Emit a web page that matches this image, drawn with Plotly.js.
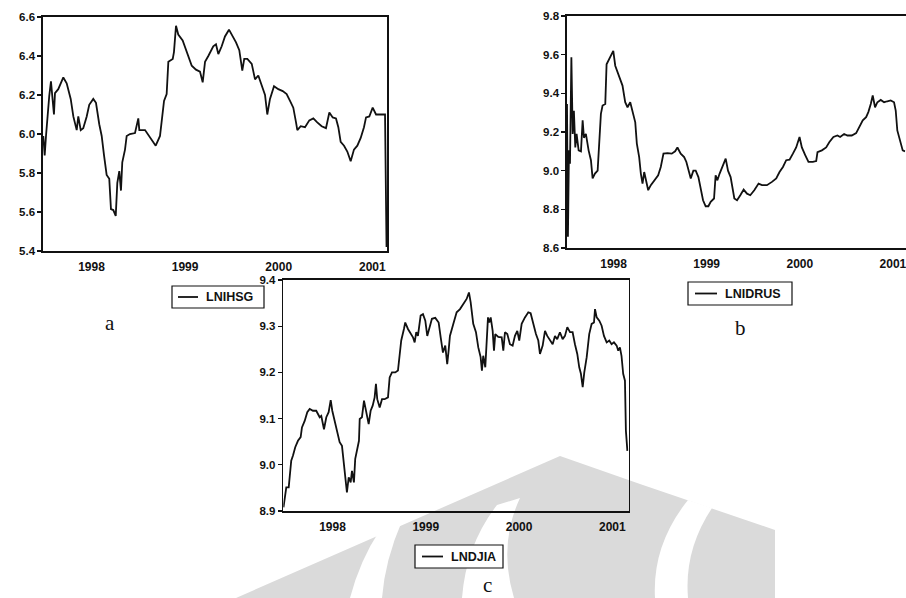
<!DOCTYPE html>
<html>
<head>
<meta charset="utf-8">
<script src="https://cdn.plot.ly/plotly-3.0.1.min.js"></script>
<style>
  html, body { margin: 0; padding: 0; background: #fff; }
  #chart { width: 906px; height: 598px; }
</style>
</head>
<body>
<div id="chart"></div>
<script>
// Weekly log index levels, mid-1997 to early 2001 (time in decimal years)

// a: LNIHSG
const yearsA = [1997.485,1997.50,1997.514,1997.528,1997.549,1997.567,1997.581,1997.599,1997.61,1997.645,
  1997.699,1997.735,1997.778,1997.806,1997.842,1997.859,1997.885,1997.912,1997.949,1997.976,
  1998.019,1998.048,1998.083,1998.109,1998.134,1998.162,1998.19,1998.208,1998.233,1998.259,
  1998.276,1998.297,1998.315,1998.329,1998.358,1998.376,1998.411,1998.465,1998.50,1998.511,
  1998.572,1998.625,1998.686,1998.732,1998.75,1998.775,1998.803,1998.821,1998.868,1998.881,
  1998.903,1998.927,1998.974,1999.017,1999.071,1999.116,1999.159,1999.188,1999.213,1999.248,
  1999.301,1999.330,1999.355,1999.391,1999.426,1999.469,1999.509,1999.544,1999.579,1999.611,
  1999.632,1999.665,1999.712,1999.747,1999.782,1999.818,1999.854,1999.878,1999.907,1999.95,
  1999.996,2000.043,2000.085,2000.121,2000.156,2000.185,2000.199,2000.235,2000.281,2000.327,
  2000.37,2000.412,2000.459,2000.505,2000.541,2000.577,2000.612,2000.637,2000.662,2000.698,
  2000.733,2000.769,2000.804,2000.84,2000.876,2000.911,2000.933,2000.968,2001.004,2001.04,
  2001.082,2001.136,2001.152];
const lnihsg = [5.99,5.89,5.99,6.09,6.196,6.27,6.20,6.10,6.21,6.23,
  6.29,6.26,6.18,6.09,6.02,6.09,6.02,6.03,6.09,6.15,
  6.18,6.16,6.05,5.99,5.89,5.79,5.77,5.615,5.61,5.58,
  5.75,5.81,5.71,5.855,5.92,5.99,6.00,6.005,6.08,6.02,
  6.02,5.98,5.94,5.99,6.06,6.17,6.205,6.37,6.385,6.42,
  6.555,6.51,6.48,6.42,6.35,6.33,6.32,6.265,6.37,6.40,
  6.45,6.46,6.41,6.45,6.50,6.535,6.50,6.47,6.43,6.325,
  6.385,6.385,6.36,6.28,6.30,6.25,6.20,6.10,6.18,6.245,
  6.23,6.22,6.205,6.17,6.135,6.06,6.02,6.04,6.035,6.07,
  6.08,6.06,6.04,6.03,6.11,6.085,6.08,6.035,5.96,5.94,
  5.91,5.86,5.92,5.94,5.98,6.035,6.085,6.09,6.135,6.10,
  6.10,6.10,5.42];

// b: LNIDRUS
const yearsB = [1997.50,1997.51,1997.521,1997.532,1997.547,1997.561,1997.574,1997.589,1997.603,1997.625,
  1997.65,1997.668,1997.682,1997.703,1997.732,1997.757,1997.775,1997.80,1997.829,1997.847,
  1997.864,1997.882,1997.911,1997.925,1997.946,1997.971,1997.997,1998.018,1998.043,1998.068,
  1998.096,1998.125,1998.15,1998.179,1998.204,1998.233,1998.25,1998.275,1998.293,1998.311,
  1998.329,1998.346,1998.372,1998.40,1998.436,1998.479,1998.507,1998.536,1998.579,1998.625,
  1998.661,1998.686,1998.721,1998.758,1998.782,1998.811,1998.829,1998.857,1998.882,1998.911,
  1998.936,1998.961,1998.989,1999.018,1999.043,1999.079,1999.096,1999.115,1999.139,1999.168,
  1999.204,1999.229,1999.257,1999.297,1999.326,1999.361,1999.397,1999.433,1999.468,1999.511,
  1999.557,1999.594,1999.647,1999.701,1999.747,1999.782,1999.819,1999.854,1999.89,1999.926,
  1999.961,1999.997,2000.022,2000.058,2000.093,2000.14,2000.176,2000.19,2000.237,2000.283,
  2000.318,2000.361,2000.404,2000.433,2000.476,2000.511,2000.558,2000.605,2000.64,2000.676,
  2000.712,2000.736,2000.762,2000.783,2000.808,2000.833,2000.869,2000.905,2000.94,2000.976,
  2001.012,2001.03,2001.047,2001.076,2001.105,2001.13];
const lnidrus = [9.345,8.658,9.105,9.036,9.586,9.19,9.31,9.12,9.19,9.105,
  9.10,9.26,9.17,9.19,9.105,9.054,8.96,8.985,9.0,9.157,
  9.294,9.337,9.345,9.55,9.57,9.595,9.62,9.543,9.51,9.474,
  9.44,9.354,9.328,9.354,9.31,9.25,9.14,9.07,8.985,8.933,
  8.993,8.95,8.899,8.925,8.95,8.976,9.019,9.088,9.091,9.088,
  9.10,9.12,9.088,9.07,9.045,9.0,8.96,9.0,9.0,8.967,
  8.907,8.847,8.816,8.816,8.839,8.856,8.976,8.95,8.985,9.02,
  9.062,9.0,8.967,8.856,8.847,8.873,8.902,8.881,8.873,8.899,
  8.933,8.925,8.925,8.942,8.96,8.993,9.019,9.054,9.057,9.088,
  9.12,9.174,9.12,9.08,9.045,9.045,9.05,9.096,9.105,9.12,
  9.148,9.174,9.182,9.174,9.19,9.182,9.182,9.194,9.225,9.26,
  9.277,9.303,9.345,9.389,9.328,9.354,9.366,9.354,9.359,9.363,
  9.354,9.311,9.208,9.157,9.105,9.10];

// c: LNDJIA
const yearsC = [1997.475,1997.505,1997.531,1997.544,1997.558,1997.577,1997.601,1997.63,1997.659,1997.673,
  1997.702,1997.73,1997.756,1997.791,1997.826,1997.863,1997.88,1997.909,1997.934,1997.959,
  1997.981,1997.998,1998.024,1998.051,1998.077,1998.102,1998.123,1998.137,1998.155,1998.174,
  1998.195,1998.209,1998.23,1998.244,1998.266,1998.284,1998.292,1998.316,1998.338,1998.362,
  1998.388,1998.409,1998.431,1998.452,1998.466,1998.48,1998.506,1998.531,1998.559,1998.595,
  1998.613,1998.638,1998.673,1998.702,1998.72,1998.737,1998.766,1998.78,1998.809,1998.838,
  1998.863,1998.881,1998.898,1998.916,1998.945,1998.97,1998.995,1999.016,1999.042,1999.066,
  1999.102,1999.138,1999.16,1999.184,1999.209,1999.23,1999.245,1999.259,1999.295,1999.331,
  1999.367,1999.402,1999.438,1999.463,1999.481,1999.509,1999.538,1999.563,1999.588,1999.602,
  1999.616,1999.638,1999.653,1999.667,1999.681,1999.696,1999.717,1999.731,1999.745,1999.777,
  1999.814,1999.831,1999.849,1999.874,1999.902,1999.931,1999.956,1999.981,2000.002,2000.028,
  2000.063,2000.099,2000.124,2000.152,2000.181,2000.206,2000.224,2000.253,2000.278,2000.302,
  2000.331,2000.36,2000.385,2000.409,2000.438,2000.467,2000.492,2000.517,2000.546,2000.574,
  2000.599,2000.624,2000.645,2000.663,2000.682,2000.699,2000.725,2000.752,2000.778,2000.803,
  2000.814,2000.832,2000.86,2000.885,2000.91,2000.939,2000.967,2000.992,2001.017,2001.046,
  2001.063,2001.081,2001.098,2001.116,2001.135,2001.145,2001.161];
const lndjia = [8.908,8.951,8.951,8.98,9.009,9.02,9.038,9.052,9.06,9.081,
  9.095,9.114,9.121,9.117,9.117,9.103,9.106,9.077,9.103,9.114,
  9.14,9.117,9.095,9.077,9.049,9.041,8.995,8.966,8.94,8.973,
  8.962,8.987,8.962,9.013,9.038,9.052,9.099,9.103,9.139,9.11,
  9.088,9.117,9.128,9.146,9.175,9.142,9.124,9.142,9.142,9.146,
  9.189,9.20,9.20,9.204,9.24,9.269,9.294,9.308,9.294,9.283,
  9.276,9.265,9.287,9.279,9.323,9.326,9.312,9.279,9.298,9.316,
  9.318,9.308,9.276,9.243,9.258,9.218,9.247,9.279,9.305,9.33,
  9.337,9.348,9.359,9.373,9.352,9.305,9.287,9.254,9.233,9.204,
  9.236,9.211,9.269,9.319,9.308,9.319,9.29,9.247,9.283,9.277,
  9.276,9.247,9.287,9.283,9.261,9.258,9.279,9.29,9.269,9.305,
  9.319,9.33,9.328,9.305,9.283,9.269,9.24,9.258,9.29,9.279,
  9.269,9.261,9.279,9.272,9.287,9.272,9.279,9.298,9.287,9.287,
  9.261,9.24,9.211,9.197,9.168,9.20,9.233,9.283,9.305,9.308,
  9.337,9.319,9.312,9.301,9.279,9.265,9.269,9.261,9.265,9.258,
  9.247,9.254,9.236,9.197,9.182,9.074,9.03];

const seriesNames = ['LNIHSG', 'LNIDRUS', 'LNDJIA'];
const panelLetters = ['a', 'b', 'c'];
const yearTicks = [1998, 1999, 2000, 2001];
const yearLabels = ['1998', '1999', '2000', '2001'];

// page geometry helpers (pixel -> paper fraction)
const W = 906, H = 598;
const px = v => v / W;
const py = v => 1 - v / H;

const SANS = 'Liberation Sans, Arial, sans-serif';
const SERIF = 'Liberation Serif, Times New Roman, serif';
const INK = '#111';

function xAxis(left, right, range, anchor) {
  return {
    domain: [px(left), px(right)], range: range, anchor: anchor,
    tickmode: 'array', tickvals: yearTicks, ticktext: yearLabels,
    ticks: 'outside', ticklen: 4, tickcolor: 'rgba(0,0,0,0)',
    ticklabeloverflow: 'allow',
    tickfont: { family: SANS, size: 12, weight: 'bold', color: INK },
    showline: true, mirror: true, linecolor: INK, linewidth: 1.6,
    showgrid: false, zeroline: false, fixedrange: true
  };
}
function yAxis(top, bottom, range, dtick, anchor) {
  return {
    domain: [py(bottom), py(top)], range: range, anchor: anchor,
    tick0: range[0], dtick: dtick, tickformat: '.1f',
    ticks: 'outside', ticklen: 4, tickcolor: INK, tickwidth: 1.2,
    tickfont: { family: SANS, size: 11.5, weight: 'bold', color: INK },
    showline: true, mirror: true, linecolor: INK, linewidth: 1.6,
    showgrid: false, zeroline: false, fixedrange: true
  };
}

const line = { color: INK, width: 1.8 };
const traces = [
  { x: yearsA, y: lnihsg, xaxis: 'x', yaxis: 'y' },
  { x: yearsB, y: lnidrus, xaxis: 'x2', yaxis: 'y2' },
  { x: yearsC, y: lndjia, xaxis: 'x3', yaxis: 'y3' }
].map((t, i) => Object.assign(t, {
  type: 'scatter', mode: 'lines', name: seriesNames[i], line: line,
  showlegend: false, hoverinfo: 'skip'
}));

// light grey page emblem printed behind the lower figure
function path(points) {
  return points.map((p, i) => {
    if (p.length === 4) return 'Q' + px(p[0]) + ',' + py(p[1]) + ' ' + px(p[2]) + ',' + py(p[3]);
    return (i === 0 ? 'M' : 'L') + px(p[0]) + ',' + py(p[1]);
  }).join(' ') + ' Z';
}
const EMBLEM = '#dadada';
const emblem = [
  { fill: EMBLEM, pts: [[236, 598], [560, 456], [640, 484], [775, 530], [775, 598]] },
  { fill: '#fff', pts: [[350, 598], [360, 560, 380, 530], [402, 521], [385, 560, 382, 598]] },
  { fill: '#fff', pts: [[462, 598], [466, 545, 497, 505], [520, 498], [498, 545, 514, 598]] },
  { fill: '#fff', pts: [[655, 598], [652, 545, 688, 500], [712, 508], [684, 550, 688, 598]] }
];
const shapes = emblem.map(e => ({
  type: 'path', xref: 'paper', yref: 'paper', layer: 'below',
  path: path(e.pts), fillcolor: e.fill, line: { width: 0 }
}));

// boxed key under each panel: frame, line sample, series name
const keys = [
  { box: [172, 286, 264, 308], sample: [178, 198] },
  { box: [688, 282, 792, 305], sample: [695, 717] },
  { box: [415, 545, 503, 568], sample: [422, 443] }
];
const annotations = [];
keys.forEach((k, i) => {
  const [x0, y0, x1, y1] = k.box;
  const mid = (y0 + y1) / 2;
  shapes.push({ type: 'rect', xref: 'paper', yref: 'paper', layer: 'above',
    x0: px(x0), x1: px(x1), y0: py(y1), y1: py(y0),
    fillcolor: '#fff', line: { color: INK, width: 1.2 } });
  shapes.push({ type: 'line', xref: 'paper', yref: 'paper', layer: 'above',
    x0: px(k.sample[0]), x1: px(k.sample[1]), y0: py(mid), y1: py(mid),
    line: { color: INK, width: 1.8 } });
  annotations.push({ text: traces[i].name, xref: 'paper', yref: 'paper',
    x: px(k.sample[1] + 6), y: py(mid), xanchor: 'left', yanchor: 'middle',
    showarrow: false, font: { family: SANS, size: 12.5, weight: 'bold', color: INK } });
});

// panel letters
[[110, 323], [740, 328], [487, 585]].forEach((p, i) => {
  annotations.push({ text: panelLetters[i], xref: 'paper', yref: 'paper',
    x: px(p[0]), y: py(p[1]), xanchor: 'center', yanchor: 'middle', showarrow: false,
    font: { family: SERIF, size: 21, color: INK } });
});

const layout = {
  width: W, height: H,
  margin: { l: 0, r: 0, t: 0, b: 0 },
  paper_bgcolor: '#fff', plot_bgcolor: 'rgba(0,0,0,0)',
  showlegend: false,
  xaxis: xAxis(43, 387, [1997.482, 2001.157], 'y'),
  yaxis: yAxis(17, 251, [5.4, 6.6], 0.2, 'x'),
  xaxis2: xAxis(567, 905.5, [1997.50, 2001.135], 'y2'),
  yaxis2: yAxis(16, 248, [8.6, 9.8], 0.2, 'x2'),
  xaxis3: xAxis(283.3, 628.5, [1997.473, 2001.173], 'y3'),
  yaxis3: yAxis(280, 511, [8.9, 9.4], 0.1, 'x3'),
  shapes: shapes,
  annotations: annotations
};

Plotly.newPlot('chart', traces, layout, { displayModeBar: false, staticPlot: true });
</script>
</body>
</html>
